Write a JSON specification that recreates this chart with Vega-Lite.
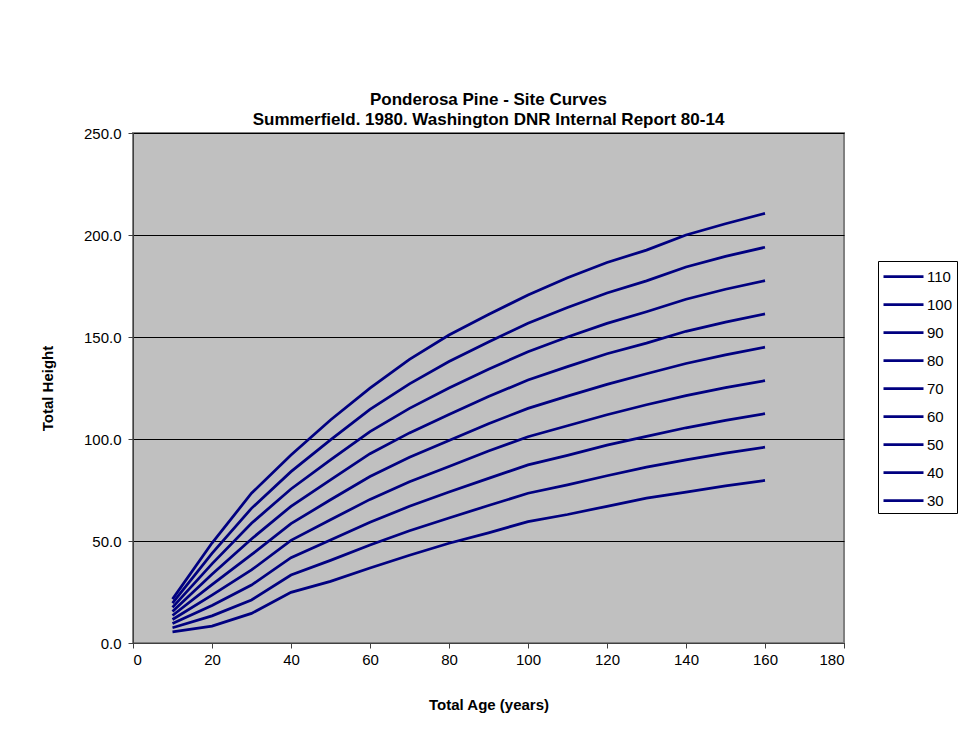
{
  "$schema": "https://vega.github.io/schema/vega-lite/v6.json",
  "width": 711,
  "height": 510,
  "autosize": {"type": "none"},
  "padding": {"left": 133, "top": 133, "right": 131, "bottom": 97},
  "background": "white",
  "title": {
    "text": ["Ponderosa Pine - Site Curves", "Summerfield. 1980. Washington DNR Internal Report 80-14"],
    "font": "Liberation Sans",
    "fontSize": 17,
    "fontWeight": "bold",
    "color": "black",
    "anchor": "middle",
    "lineHeight": 20,
    "offset": -3
  },
  "config": {
    "font": "Liberation Sans",
    "view": {"fill": "#C0C0C0", "stroke": "#808080", "strokeWidth": 2},
    "axis": {
      "labelFont": "Liberation Sans",
      "labelFontSize": 15,
      "labelColor": "black",
      "titleFont": "Liberation Sans",
      "titleFontSize": 15,
      "titleFontWeight": "bold",
      "titleColor": "black",
      "domainColor": "#404040",
      "domainWidth": 1,
      "tickColor": "#404040",
      "tickSize": 5
    }
  },
  "data": {
    "values": [
      {"age": 10, "si": "110", "h": 21.5}, {"age": 10, "si": "100", "h": 19.5}, {"age": 10, "si": "90", "h": 17.5}, {"age": 10, "si": "80", "h": 15.5}, {"age": 10, "si": "70", "h": 13.5}, {"age": 10, "si": "60", "h": 11.5}, {"age": 10, "si": "50", "h": 9.5}, {"age": 10, "si": "40", "h": 7.5}, {"age": 10, "si": "30", "h": 5.5},
      {"age": 20, "si": "110", "h": 49.0}, {"age": 20, "si": "100", "h": 43.9}, {"age": 20, "si": "90", "h": 38.8}, {"age": 20, "si": "80", "h": 33.7}, {"age": 20, "si": "70", "h": 28.6}, {"age": 20, "si": "60", "h": 23.5}, {"age": 20, "si": "50", "h": 18.4}, {"age": 20, "si": "40", "h": 13.3}, {"age": 20, "si": "30", "h": 8.3},
      {"age": 30, "si": "110", "h": 73.4}, {"age": 30, "si": "100", "h": 66.0}, {"age": 30, "si": "90", "h": 58.7}, {"age": 30, "si": "80", "h": 51.0}, {"age": 30, "si": "70", "h": 43.3}, {"age": 30, "si": "60", "h": 35.8}, {"age": 30, "si": "50", "h": 28.4}, {"age": 30, "si": "40", "h": 21.1}, {"age": 30, "si": "30", "h": 14.5},
      {"age": 40, "si": "110", "h": 92.2}, {"age": 40, "si": "100", "h": 84.0}, {"age": 40, "si": "90", "h": 75.5}, {"age": 40, "si": "80", "h": 67.0}, {"age": 40, "si": "70", "h": 58.5}, {"age": 40, "si": "60", "h": 50.3}, {"age": 40, "si": "50", "h": 41.8}, {"age": 40, "si": "40", "h": 33.3}, {"age": 40, "si": "30", "h": 24.8},
      {"age": 50, "si": "110", "h": 109.3}, {"age": 50, "si": "100", "h": 99.6}, {"age": 50, "si": "90", "h": 89.8}, {"age": 50, "si": "80", "h": 80.0}, {"age": 50, "si": "70", "h": 70.2}, {"age": 50, "si": "60", "h": 60.4}, {"age": 50, "si": "50", "h": 50.5}, {"age": 50, "si": "40", "h": 40.5}, {"age": 50, "si": "30", "h": 30.2},
      {"age": 60, "si": "110", "h": 124.9}, {"age": 60, "si": "100", "h": 114.5}, {"age": 60, "si": "90", "h": 103.6}, {"age": 60, "si": "80", "h": 92.8}, {"age": 60, "si": "70", "h": 81.6}, {"age": 60, "si": "60", "h": 70.4}, {"age": 60, "si": "50", "h": 59.2}, {"age": 60, "si": "40", "h": 48.0}, {"age": 60, "si": "30", "h": 36.8},
      {"age": 70, "si": "110", "h": 139.0}, {"age": 70, "si": "100", "h": 127.0}, {"age": 70, "si": "90", "h": 115.0}, {"age": 70, "si": "80", "h": 103.0}, {"age": 70, "si": "70", "h": 91.0}, {"age": 70, "si": "60", "h": 79.0}, {"age": 70, "si": "50", "h": 67.0}, {"age": 70, "si": "40", "h": 55.0}, {"age": 70, "si": "30", "h": 43.0},
      {"age": 80, "si": "110", "h": 151.0}, {"age": 80, "si": "100", "h": 138.0}, {"age": 80, "si": "90", "h": 125.0}, {"age": 80, "si": "80", "h": 112.0}, {"age": 80, "si": "70", "h": 99.3}, {"age": 80, "si": "60", "h": 86.5}, {"age": 80, "si": "50", "h": 74.0}, {"age": 80, "si": "40", "h": 61.3}, {"age": 80, "si": "30", "h": 48.9},
      {"age": 90, "si": "110", "h": 161.0}, {"age": 90, "si": "100", "h": 147.6}, {"age": 90, "si": "90", "h": 134.2}, {"age": 90, "si": "80", "h": 120.8}, {"age": 90, "si": "70", "h": 107.5}, {"age": 90, "si": "60", "h": 94.1}, {"age": 90, "si": "50", "h": 80.7}, {"age": 90, "si": "40", "h": 67.4}, {"age": 90, "si": "30", "h": 54.0},
      {"age": 100, "si": "110", "h": 170.6}, {"age": 100, "si": "100", "h": 156.7}, {"age": 100, "si": "90", "h": 142.8}, {"age": 100, "si": "80", "h": 128.9}, {"age": 100, "si": "70", "h": 115.0}, {"age": 100, "si": "60", "h": 101.1}, {"age": 100, "si": "50", "h": 87.3}, {"age": 100, "si": "40", "h": 73.4}, {"age": 100, "si": "30", "h": 59.5},
      {"age": 110, "si": "110", "h": 179.0}, {"age": 110, "si": "100", "h": 164.5}, {"age": 110, "si": "90", "h": 150.0}, {"age": 110, "si": "80", "h": 135.5}, {"age": 110, "si": "70", "h": 121.0}, {"age": 110, "si": "60", "h": 106.5}, {"age": 110, "si": "50", "h": 92.0}, {"age": 110, "si": "40", "h": 77.5}, {"age": 110, "si": "30", "h": 63.0},
      {"age": 120, "si": "110", "h": 186.5}, {"age": 120, "si": "100", "h": 171.6}, {"age": 120, "si": "90", "h": 156.7}, {"age": 120, "si": "80", "h": 141.8}, {"age": 120, "si": "70", "h": 126.8}, {"age": 120, "si": "60", "h": 111.9}, {"age": 120, "si": "50", "h": 97.0}, {"age": 120, "si": "40", "h": 82.0}, {"age": 120, "si": "30", "h": 67.0},
      {"age": 130, "si": "110", "h": 192.6}, {"age": 130, "si": "100", "h": 177.5}, {"age": 130, "si": "90", "h": 162.4}, {"age": 130, "si": "80", "h": 147.0}, {"age": 130, "si": "70", "h": 132.0}, {"age": 130, "si": "60", "h": 116.8}, {"age": 130, "si": "50", "h": 101.3}, {"age": 130, "si": "40", "h": 86.2}, {"age": 130, "si": "30", "h": 71.0},
      {"age": 140, "si": "110", "h": 200.0}, {"age": 140, "si": "100", "h": 184.3}, {"age": 140, "si": "90", "h": 168.5}, {"age": 140, "si": "80", "h": 152.8}, {"age": 140, "si": "70", "h": 137.0}, {"age": 140, "si": "60", "h": 121.3}, {"age": 140, "si": "50", "h": 105.5}, {"age": 140, "si": "40", "h": 89.8}, {"age": 140, "si": "30", "h": 74.0},
      {"age": 150, "si": "110", "h": 205.5}, {"age": 150, "si": "100", "h": 189.5}, {"age": 150, "si": "90", "h": 173.4}, {"age": 150, "si": "80", "h": 157.3}, {"age": 150, "si": "70", "h": 141.2}, {"age": 150, "si": "60", "h": 125.2}, {"age": 150, "si": "50", "h": 109.1}, {"age": 150, "si": "40", "h": 93.1}, {"age": 150, "si": "30", "h": 77.0},
      {"age": 160, "si": "110", "h": 210.6}, {"age": 160, "si": "100", "h": 194.0}, {"age": 160, "si": "90", "h": 177.6}, {"age": 160, "si": "80", "h": 161.3}, {"age": 160, "si": "70", "h": 145.0}, {"age": 160, "si": "60", "h": 128.6}, {"age": 160, "si": "50", "h": 112.4}, {"age": 160, "si": "40", "h": 96.0}, {"age": 160, "si": "30", "h": 79.7}
    ]
  },
  "mark": {"type": "line", "strokeWidth": 2.75, "interpolate": "linear"},
  "encoding": {
    "x": {
      "field": "age", "type": "quantitative",
      "scale": {"domain": [0, 180], "nice": false},
      "axis": {"values": [0, 20, 40, 60, 80, 100, 120, 140, 160, 180], "grid": false, "title": "Total Age (years)", "titlePadding": 30, "labelPadding": 4}
    },
    "y": {
      "field": "h", "type": "quantitative",
      "scale": {"domain": [0, 250], "nice": false},
      "axis": {"values": [0, 50, 100, 150, 200, 250], "format": ".1f", "grid": true, "gridColor": "black", "gridWidth": 1, "title": "Total Height", "titlePadding": 28, "labelPadding": 7}
    },
    "color": {
      "field": "si", "type": "nominal",
      "sort": ["110", "100", "90", "80", "70", "60", "50", "40", "30"],
      "scale": {"domain": ["110", "100", "90", "80", "70", "60", "50", "40", "30"], "range": ["#000080", "#000080", "#000080", "#000080", "#000080", "#000080", "#000080", "#000080", "#000080"]},
      "legend": {
        "title": null,
        "orient": "none",
        "legendX": 745,
        "legendY": 128,
        "symbolType": "M-1,0H3",
        "symbolSize": 400,
        "symbolStrokeWidth": 2.75,
        "labelFont": "Liberation Sans",
        "labelFontSize": 15,
        "labelColor": "black",
        "labelOffset": 22,
        "strokeColor": "black",
        "fillColor": "white",
        "padding": 4,
        "rowPadding": 8
      }
    }
  }
}
